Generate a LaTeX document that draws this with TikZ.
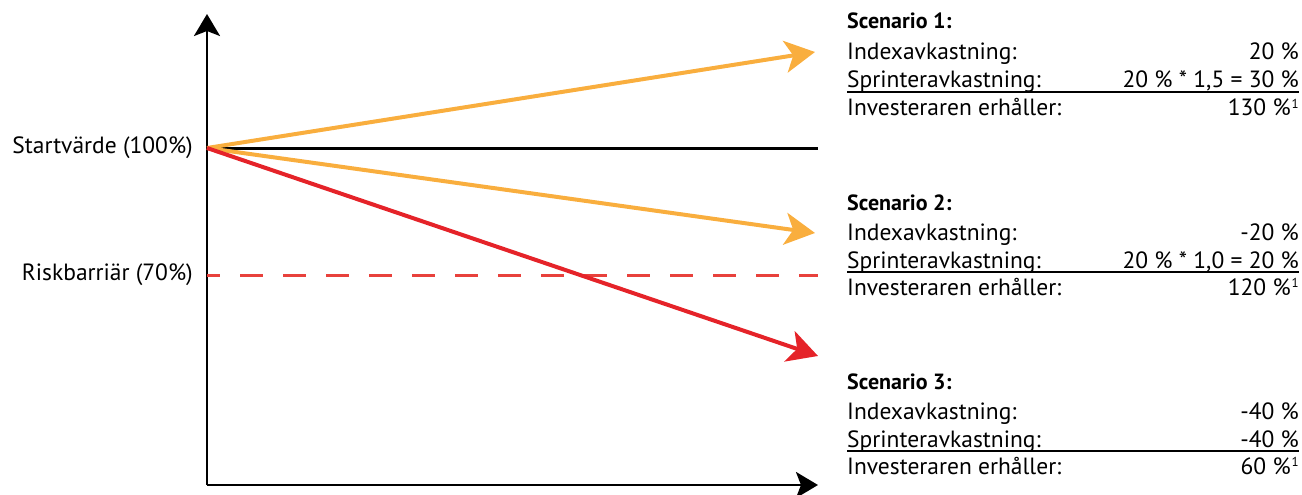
\documentclass[tikz,border=0pt]{standalone}
\usepackage{fontspec}
\setmainfont{PT Sans}
\usetikzlibrary{arrows.meta}
\definecolor{orng}{HTML}{F9AE3E}
\definecolor{rd}{HTML}{E52329}
\definecolor{dred}{HTML}{E8413C}
\newcommand{\fnmark}{\kern1pt\raisebox{0.33em}{\fontsize{13}{13}\selectfont 1}}
\begin{document}
\begin{tikzpicture}[x=1pt,y=-1pt,
  txt/.style={inner sep=0pt,font=\fontsize{23.5}{23.5}\selectfont},
  lab/.style={txt,anchor=east},
  row/.style={txt,anchor=base west},
  val/.style={txt,anchor=base east},
  ttl/.style={txt,anchor=base west,font=\fontsize{22}{22}\selectfont\bfseries},
  axis/.style={line width=2.6pt,-{Stealth[length=22pt,width=26pt,inset=5pt]}},
  trend/.style={line width=4pt,-{Stealth[length=30pt,width=32pt,inset=8pt]}}]
\useasboundingbox (0,0) rectangle (1302,495);
\coordinate (O) at (207,485);
\coordinate (Ytop) at (207,14);
\coordinate (Xend) at (818,485);
\coordinate (S) at (207,148);
\coordinate (Send) at (818,148);
\coordinate (R) at (207,275);
\coordinate (Rend) at (818,275);
\coordinate (A1) at (815,52);
\coordinate (A2) at (815,233);
\coordinate (A3) at (818,356);
% axes
\draw[axis] (O) -- (Ytop);
\draw[axis] (O) -- (Xend);
% lines
\draw[line width=3pt] (S) -- (Send);
\draw[dred,line width=3pt,dash pattern=on 23pt off 20pt,dash phase=10pt] (R) -- (Rend);
\draw[trend,orng] (S) -- (A1);
\draw[trend,orng] (S) -- (A2);
\draw[trend,rd] (S) -- (A3);
% labels
\node[lab] (ls) at (193,148) {Startvärde (100\%)};
\node[lab] (lr) at (193,275) {Riskbarriär (70\%)};
% scenario 1
\node[ttl] (t1) at (847,29) {Scenario 1:};
\node[row] (i1) at (847,60) {Indexavkastning:};
\node[val] (iv1) at (1299,60) {20 \%};
\node[row] (s1) at (847,88) {Sprinteravkastning:};
\node[val] (sv1) at (1299,88) {20 \% * 1,5 = 30 \%};
\node[row] (e1) at (847,116) {Investeraren erhåller:};
\node[val] (ev1) at (1299,116) {130 \%\fnmark};
\draw[line width=1.3pt] (847,92) -- (1299,92);
% scenario 2
\node[ttl] (t2) at (847,210) {Scenario 2:};
\node[row] (i2) at (847,240) {Indexavkastning:};
\node[val] (iv2) at (1299,240) {-20 \%};
\node[row] (s2) at (847,268) {Sprinteravkastning:};
\node[val] (sv2) at (1299,268) {20 \% * 1,0 = 20 \%};
\node[row] (e2) at (847,295) {Investeraren erhåller:};
\node[val] (ev2) at (1299,295) {120 \%\fnmark};
\draw[line width=1.3pt] (847,272) -- (1299,272);
% scenario 3
\node[ttl] (t3) at (847,389) {Scenario 3:};
\node[row] (i3) at (847,419) {Indexavkastning:};
\node[val] (iv3) at (1299,419) {-40 \%};
\node[row] (s3) at (847,447) {Sprinteravkastning:};
\node[val] (sv3) at (1299,447) {-40 \%};
\node[row] (e3) at (847,474) {Investeraren erhåller:};
\node[val] (ev3) at (1299,474) {60 \%\fnmark};
\draw[line width=1.3pt] (847,451) -- (1299,451);
\end{tikzpicture}
\end{document}
